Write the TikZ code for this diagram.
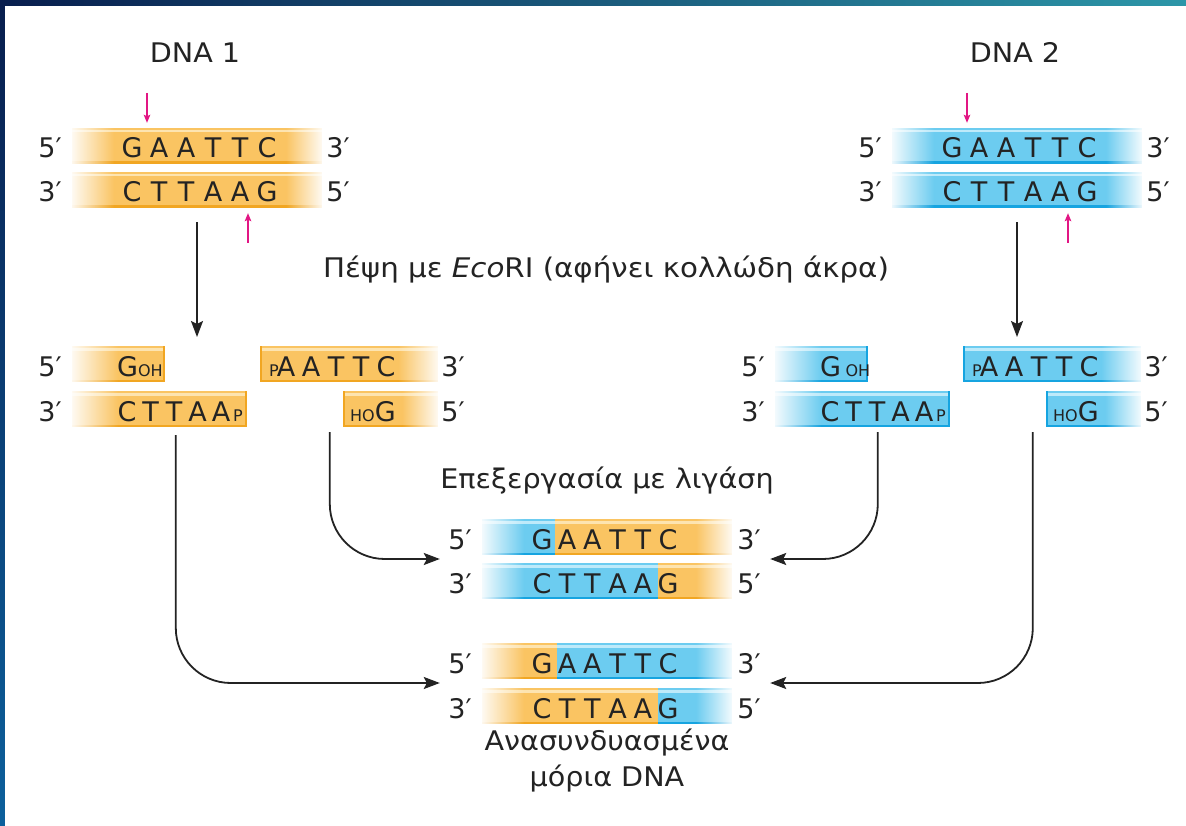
\documentclass[tikz,border=0pt]{standalone}
\usepackage{fontspec}
\setmainfont{DejaVu Sans}
\newfontfamily\wideA[FakeStretch=1.085]{DejaVu Sans}
\newfontfamily\wideB[FakeStretch=1.06]{DejaVu Sans}
\usetikzlibrary{arrows.meta,fadings}

\definecolor{org}{RGB}{250,196,98}
\definecolor{orghi}{RGB}{253,228,176}
\definecolor{orgdk}{RGB}{241,166,34}
\definecolor{blu}{RGB}{108,204,240}
\definecolor{bluhi}{RGB}{190,234,250}
\definecolor{bludk}{RGB}{22,164,224}
\definecolor{cutmark}{RGB}{226,22,132}
\definecolor{ink}{RGB}{35,35,35}
\definecolor{navy}{RGB}{8,30,78}
\definecolor{teal}{RGB}{44,150,168}
\definecolor{steel}{RGB}{12,96,156}

\tikzfading[name=washL, left color=transparent!8, right color=transparent!100]
\tikzfading[name=washR, left color=transparent!100, right color=transparent!8]

% one strand segment: x0, x1, top y, colour prefix (org / blu)
\newcommand\strandseg[4]{%
  \fill[#4] (#1,#3) rectangle (#2,#3+36);
  \fill[#4hi] (#1,#3+2) rectangle (#2,#3+4.5);
  \fill[#4dk] (#1,#3+33.5) rectangle (#2,#3+36);
}
% white wash fading a strand towards its free end
\newcommand\washleft[3]{\fill[white,path fading=washL] (#1,#2-0.5) rectangle (#1+#3,#2+36.5);}
\newcommand\washright[3]{\fill[white,path fading=washR] (#1-#3,#2-0.5) rectangle (#1,#2+36.5);}
% a row of bases: name prefix, first centre x, baseline y, pitch, letters
\newcommand\bases[5]{\foreach \ch [count=\i from 0] in {#5}{\node[lbl] (#1\i) at ({#2+\i*#4},#3) {\ch};}}
\newcommand\sub[1]{{\fontsize{16}{16}\selectfont #1}}

\begin{document}
\begin{tikzpicture}[x=1pt,y=-1pt,
  lbl/.style={font=\fontsize{27}{32}\selectfont, text=ink, inner sep=0pt, anchor=base},
  lblw/.style={lbl, anchor=base west},
  grp/.style={rectangle, draw=none, inner sep=0pt},
  conn/.style={line width=1.8pt, draw=ink, rounded corners=55pt,
    -{Stealth[length=16pt,width=12pt,inset=3pt]}},
  cutarrow/.style={line width=1.3pt, draw=cutmark,
    -{Stealth[length=8pt,width=6.5pt,inset=1.5pt]}}]

\useasboundingbox (0,0) rectangle (1186,826);
% slide frame and white panel
\fill[navy] (0,0) rectangle (1186,826);
\shade[left color=navy, right color=teal] (0,0) rectangle (1186,6);
\shade[top color=navy, bottom color=steel] (0,6) rectangle (5,826);
\fill[white] (5,6) rectangle (1186,826);

% ---------------- DNA 1 ----------------
\node[lbl] (titleA) at (195,63) {\wideB DNA 1};
\strandseg{72}{322}{128}{org} \washleft{72}{128}{42} \washright{322}{128}{36}
\strandseg{72}{322}{172}{org} \washleft{72}{172}{42} \washright{322}{172}{36}
\bases{ta}{132}{158}{27}{G,A,A,T,T,C}
\bases{tb}{132}{202}{27}{C,T,T,A,A,G}
\node[lbl] (ta5) at (50,158) {5′};
\node[lbl] (ta3) at (338,158) {3′};
\node[lbl] (tb3) at (50,202) {3′};
\node[lbl] (tb5) at (338,202) {5′};
\node[grp, minimum width=250pt, minimum height=80pt] (dnaA) at (197,168) {};
\coordinate (cutA1) at (147,93);
\coordinate (cutA2) at (248,243);
\draw[cutarrow, shorten >=5pt] (cutA1) -- (cutA1 |- dnaA.north);
\draw[cutarrow, shorten >=5pt] (cutA2) -- (cutA2 |- dnaA.south);
\coordinate (fragAin) at (197,337);
\draw[conn] ([yshift=-14pt]dnaA.south) -- (fragAin);

% ---------------- DNA 2 ----------------
\begin{scope}[xshift=820pt]
\node[lbl] (titleB) at (195,63) {\wideB DNA 2};
\strandseg{72}{322}{128}{blu} \washleft{72}{128}{42} \washright{322}{128}{36}
\strandseg{72}{322}{172}{blu} \washleft{72}{172}{42} \washright{322}{172}{36}
\bases{ua}{132}{158}{27}{G,A,A,T,T,C}
\bases{ub}{132}{202}{27}{C,T,T,A,A,G}
\node[lbl] (ua5) at (50,158) {5′};
\node[lbl] (ua3) at (338,158) {3′};
\node[lbl] (ub3) at (50,202) {3′};
\node[lbl] (ub5) at (338,202) {5′};
\node[grp, minimum width=250pt, minimum height=80pt] (dnaB) at (197,168) {};
\coordinate (cutB1) at (147,93);
\coordinate (cutB2) at (248,243);
\draw[cutarrow, shorten >=5pt] (cutB1) -- (cutB1 |- dnaB.north);
\draw[cutarrow, shorten >=5pt] (cutB2) -- (cutB2 |- dnaB.south);
\coordinate (fragBin) at (197,337);
\draw[conn] ([yshift=-14pt]dnaB.south) -- (fragBin);
\end{scope}

\node[lbl] (digest) at (606,278) {\wideA Πέψη με \textit{Eco}RI (αφήνει κολλώδη άκρα)};

% ---------------- EcoRI fragments of DNA 1 ----------------
\strandseg{72}{165}{346}{org} \washleft{72}{346}{46}
\fill[orgdk] (163,346) rectangle (165,382);
\node[lblw] (a1t) at (117,376) {G\sub{OH}};
\node[grp, minimum width=93pt, minimum height=36pt] (a1) at (118.5,364) {};

\strandseg{72}{247}{391}{org} \washleft{72}{391}{46}
\fill[orgdk] (245,391) rectangle (247,427);
\bases{a2b}{127}{421}{23.5}{C,T,T,A,A}
\node[lblw] (a2p) at (233,421) {\sub{P}};
\node[grp, minimum width=175pt, minimum height=36pt] (a2) at (159.5,409) {};

\strandseg{260}{438}{346}{org} \washright{438}{346}{40}
\fill[orgdk] (260,346) rectangle (262,382);
\node[lblw] (a3p) at (269,376) {\sub{P}};
\bases{a3b}{286}{376}{25}{A,A,T,T,C}
\node[grp, minimum width=178pt, minimum height=36pt] (a3) at (349,364) {};

\strandseg{343}{438}{391}{org} \washright{438}{391}{36}
\fill[orgdk] (343,391) rectangle (345,427);
\node[lblw] (a4t) at (350,421) {\sub{HO}G};
\node[grp, minimum width=95pt, minimum height=36pt] (a4) at (390.5,409) {};

\node[lbl] (a5l) at (50,376) {5′};
\node[lbl] (a3l) at (50,421) {3′};
\node[lbl] (a3r) at (453,376) {3′};
\node[lbl] (a5r) at (453,421) {5′};

% ---------------- EcoRI fragments of DNA 2 ----------------
\begin{scope}[xshift=703pt]
\strandseg{72}{165}{346}{blu} \washleft{72}{346}{46}
\fill[bludk] (163,346) rectangle (165,382);
\node[lblw] (b1t) at (117,376) {G\,\sub{OH}};
\node[grp, minimum width=93pt, minimum height=36pt] (b1) at (118.5,364) {};

\strandseg{72}{247}{391}{blu} \washleft{72}{391}{46}
\fill[bludk] (245,391) rectangle (247,427);
\bases{b2b}{127}{421}{23.5}{C,T,T,A,A}
\node[lblw] (b2p) at (233,421) {\sub{P}};
\node[grp, minimum width=175pt, minimum height=36pt] (b2) at (159.5,409) {};

\strandseg{260}{438}{346}{blu} \washright{438}{346}{40}
\fill[bludk] (260,346) rectangle (262,382);
\node[lblw] (b3p) at (269,376) {\sub{P}};
\bases{b3b}{286}{376}{25}{A,A,T,T,C}
\node[grp, minimum width=178pt, minimum height=36pt] (b3) at (349,364) {};

\strandseg{343}{438}{391}{blu} \washright{438}{391}{36}
\fill[bludk] (343,391) rectangle (345,427);
\node[lblw] (b4t) at (350,421) {\sub{HO}G};
\node[grp, minimum width=95pt, minimum height=36pt] (b4) at (390.5,409) {};

\node[lbl] (b5l) at (50,376) {5′};
\node[lbl] (b3l) at (50,421) {3′};
\node[lbl] (b3r) at (453,376) {3′};
\node[lbl] (b5r) at (453,421) {5′};
\end{scope}

\node[lbl] (ligase) at (607,488) {\wideB Επεξεργασία με λιγάση};

% ---------------- ligated: DNA 2 left arm, DNA 1 right arm ----------------
\strandseg{482}{555}{519}{blu} \strandseg{555}{732}{519}{org}
\washleft{482}{519}{42} \washright{732}{519}{36}
\strandseg{482}{658}{563}{blu} \strandseg{658}{732}{563}{org}
\washleft{482}{563}{42} \washright{732}{563}{36}
\bases{la}{542}{549}{25.2}{G,A,A,T,T,C}
\bases{lb}{542}{593}{25.2}{C,T,T,A,A,G}
\node[lbl] (la5) at (460,549) {5′};
\node[lbl] (la3) at (749,549) {3′};
\node[lbl] (lb3) at (460,593) {3′};
\node[lbl] (lb5) at (749,593) {5′};
\node[grp, minimum width=330pt, minimum height=80pt] (lig1) at (605,559) {};

% ---------------- ligated: DNA 1 left arm, DNA 2 right arm ----------------
\strandseg{482}{557}{643}{org} \strandseg{557}{732}{643}{blu}
\washleft{482}{643}{42} \washright{732}{643}{36}
\strandseg{482}{658}{688}{org} \strandseg{658}{732}{688}{blu}
\washleft{482}{688}{42} \washright{732}{688}{36}
\bases{ma}{542}{673}{25.2}{G,A,A,T,T,C}
\bases{mb}{542}{718}{25.2}{C,T,T,A,A,G}
\node[lbl] (ma5) at (460,673) {5′};
\node[lbl] (ma3) at (749,673) {3′};
\node[lbl] (mb3) at (460,718) {3′};
\node[lbl] (mb5) at (749,718) {5′};
\node[grp, minimum width=330pt, minimum height=80pt] (lig2) at (605,683) {};

\node[lbl] (recA) at (607,750) {\wideB Ανασυνδυασμένα};
\node[lbl] (recB) at (607,786) {\wideB μόρια DNA};

% ---------------- joining connectors ----------------
\draw[conn] ([shift={(-13pt,-5pt)}]a4.south west) |- (lig1.west);
\draw[conn] ([shift={(104pt,-8pt)}]a2.south west) |- (lig2.west);
\draw[conn] ([shift={(103pt,-5pt)}]b2.south west) |- (lig1.east);
\draw[conn] ([shift={(-13pt,-5pt)}]b4.south west) |- (lig2.east);

\end{tikzpicture}
\end{document}
